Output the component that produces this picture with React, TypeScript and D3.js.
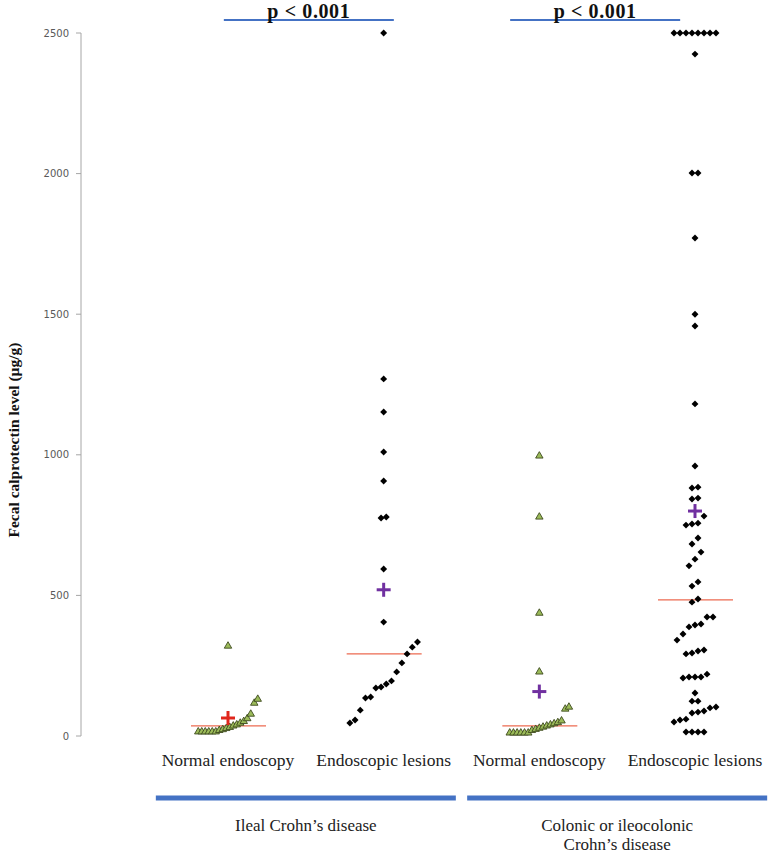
import React from "react";
import * as d3 from "d3";

// chart values
const categories = ["Normal endoscopy", "Endoscopic lesions", "Normal endoscopy", "Endoscopic lesions"];
const ilealNormal = [15, 15, 15, 15, 15, 15, 20, 23, 27, 31, 36, 40, 46, 52, 62, 78, 117, 131, 320];
const ilealLesions = [46, 57, 92, 135, 139, 171, 174, 185, 196, 228, 260, 292, 316, 334, 405, 594, 775, 779, 907, 1010, 1152, 1270, 2500];
const colonicNormal = [11, 11, 11, 11, 11, 11, 20, 24, 28, 32, 36, 40, 44, 48, 54, 96, 103, 228, 437, 779, 996];
const colonicLesions = [
  14, 14, 14, 14, 50, 57, 60, 82, 85, 89, 100, 103, 124, 124, 153, 206, 210, 210, 210, 220,
  292, 295, 302, 306, 341, 363, 388, 395, 398, 423, 423, 476, 487, 533, 548, 605, 629, 654,
  683, 704, 750, 754, 757, 782, 843, 846, 882, 885, 960, 1181, 1458, 1500, 1771, 2002, 2002,
  2425, 2500, 2500, 2500, 2500, 2500, 2500, 2500, 2500
];
const groupMeans = [64, 520, 158, 800];
const groupMedians = [36, 292, 36, 484];
const yTicks = [0, 500, 1000, 1500, 2000, 2500];
const diseaseLabels = [["Ileal  Crohn\u2019s disease"], ["Colonic or ileocolonic", "Crohn\u2019s disease"]];
const pLabels = ["p < 0.001", "p < 0.001"];

const seriesValues = [ilealNormal, ilealLesions, colonicNormal, colonicLesions];

// per-group drawing style (marker + how tied values are spread sideways)
const groupStyle = [
  { marker: "triangle", step: 3.5, gap: 15, maxRun: 20, cross: "#e0261c" },
  { marker: "diamond", step: 5.2, gap: 15, maxRun: 14, cross: "#7030a0" },
  { marker: "triangle", step: 3.7, gap: 15, maxRun: 20, cross: "#7030a0" },
  { marker: "diamond", step: 6, gap: 8, maxRun: 8, cross: "#7030a0" }
];
const pShift = [3, -22];

const width = 772;
const height = 854;
const serif = "'Liberation Serif', 'Times New Roman', serif";

const y = d3.scaleLinear().domain([0, 2500]).range([736, 33]);
const x = d3.scalePoint<number>().domain([0, 1, 2, 3]).range([228, 695]);

// sort and spread neighbouring values into little rows
const spread = (values: number[], step: number, gap: number, maxRun: number) => {
  const sorted = [...values].sort((a, b) => a - b);
  const runs: number[][] = [];
  let cur: number[] = [];
  sorted.forEach((v) => {
    if (cur.length && (Math.abs(y(v) - y(cur[cur.length - 1])) > gap || cur.length >= maxRun)) {
      runs.push(cur);
      cur = [];
    }
    cur.push(v);
  });
  if (cur.length) runs.push(cur);
  return runs.flatMap((run) => run.map((v, j) => ({ v, dx: (j - (run.length - 1) / 2) * step })));
};

const triangle = d3.symbol(d3.symbolTriangle, 24)();
const diamond = d3.symbol(d3.symbolSquare, 24)();

const App = () => {
  return (
    <svg
      width={width}
      height={height}
      style={{ position: "absolute", left: 0, top: 0, background: "#fff" }}
      xmlns="http://www.w3.org/2000/svg"
    >
      {/* y axis */}
      <g>
        <line x1={81} x2={81} y1={y(2500)} y2={y(0)} stroke="#a6a6a6" strokeWidth={1} />
        {yTicks.map((t) => (
          <g key={t} transform={`translate(0,${y(t)})`}>
            <line x1={76} x2={81} stroke="#a6a6a6" />
            <text x={69} dy="0.35em" textAnchor="end" fontFamily="'DejaVu Sans', Verdana, sans-serif" fontSize={10} fill="#595959">
              {t}
            </text>
          </g>
        ))}
        <text
          transform={`translate(19,440) rotate(-90)`}
          textAnchor="middle"
          fontFamily={serif}
          fontWeight="bold"
          fontSize={15.5}
          fill="#111"
        >
          Fecal calprotectin level (µg/g)
        </text>
      </g>

      {/* groups */}
      {seriesValues.map((vals, gi) => {
        const st = groupStyle[gi];
        const cx = x(gi) as number;
        const pts = spread(vals, st.step, st.gap, st.maxRun);
        return (
          <g key={gi}>
            <line x1={cx - 37} x2={cx + 38} y1={y(groupMedians[gi])} y2={y(groupMedians[gi])} stroke="#ec6a50" strokeWidth={1.2} />
            {pts.map((p, i) =>
              st.marker === "triangle" ? (
                <path key={i} d={triangle} transform={`translate(${cx + p.dx},${y(p.v)})`} fill="#9bbb59" stroke="#3d4a1e" strokeWidth={0.9} />
              ) : (
                <path key={i} d={diamond} transform={`translate(${cx + p.dx},${y(p.v)}) rotate(45)`} fill="#000" />
              )
            )}
            <g transform={`translate(${cx},${y(groupMeans[gi])})`} stroke={st.cross} strokeWidth={3}>
              <line x1={-7} x2={7} />
              <line y1={-7} y2={7} />
            </g>
            <text x={cx} y={766} textAnchor="middle" fontFamily={serif} fontSize={17.5} fill="#222">
              {categories[gi]}
            </text>
          </g>
        );
      })}

      {/* disease groups and p values */}
      {diseaseLabels.map((lines, di) => {
        const mid = ((x(di * 2) as number) + (x(di * 2 + 1) as number)) / 2;
        const pc = mid + pShift[di];
        return (
          <g key={di}>
            <rect x={mid - 150} y={795.5} width={300} height={5} fill="#4472c4" />
            {lines.map((l, li) => (
              <text key={li} x={mid} y={831 + li * 19} textAnchor="middle" fontFamily={serif} fontSize={17} fill="#222">
                {l}
              </text>
            ))}
            <line x1={pc - 85} x2={pc + 85} y1={20} y2={20} stroke="#4472c4" strokeWidth={2} />
            <text x={pc} y={18} textAnchor="middle" fontFamily={serif} fontWeight="bold" fontSize={20} letterSpacing={0.6} fill="#111">
              {pLabels[di]}
            </text>
          </g>
        );
      })}
    </svg>
  );
};

export default App;
